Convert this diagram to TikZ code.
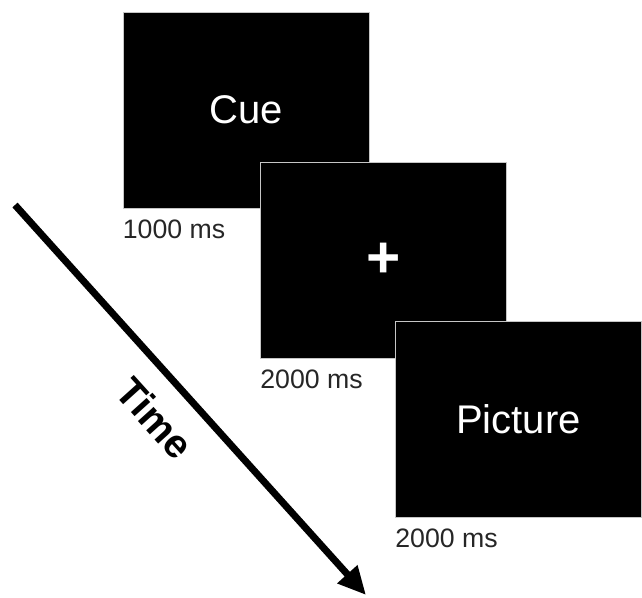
\documentclass[tikz,border=0pt]{standalone}
\usepackage{fontspec}
\setmainfont{Liberation Sans}
\usetikzlibrary{arrows.meta,positioning}

\tikzset{
  screen/.style={draw=gray!45,line width=0.6pt,fill=black,text=white,
    minimum width=184.5pt,minimum height=147pt,inner sep=0pt,
    font=\fontsize{30}{36}\selectfont},
  dur/.style={anchor=base west,inner sep=0pt,text=black!85,
    font=\fontsize{20}{24}\selectfont},
}

\begin{document}
\begin{tikzpicture}[x=0.75pt,y=-0.75pt]
\useasboundingbox (0,0) rectangle (642,597);
% the three screens, each one over the last
\node[screen] (cue) at (246,110) {Cue};
\node[screen] (fix) at (383.5,260.5) {\fontsize{44}{50}\selectfont\bfseries +};
\node[screen] (pic) at (518.5,419.5) {Picture};
\node[dur] (t1) at ([yshift=-22.5pt]cue.south west) {1000 ms};
\node[dur] (t2) at ([yshift=-22.5pt]fix.south west) {2000 ms};
\node[dur] (t3) at ([yshift=-22.5pt]pic.south west) {2000 ms};
% time axis
\coordinate (start) at (15,205);
\coordinate (end) at (366,595);
\draw[line width=5.25pt,-{Triangle[length=21pt,width=19pt]}] (start) -- (end);
\node[rotate=-48,font=\fontsize{30}{36}\selectfont\bfseries] (time) at (155,418) {Time};
\end{tikzpicture}
\end{document}
